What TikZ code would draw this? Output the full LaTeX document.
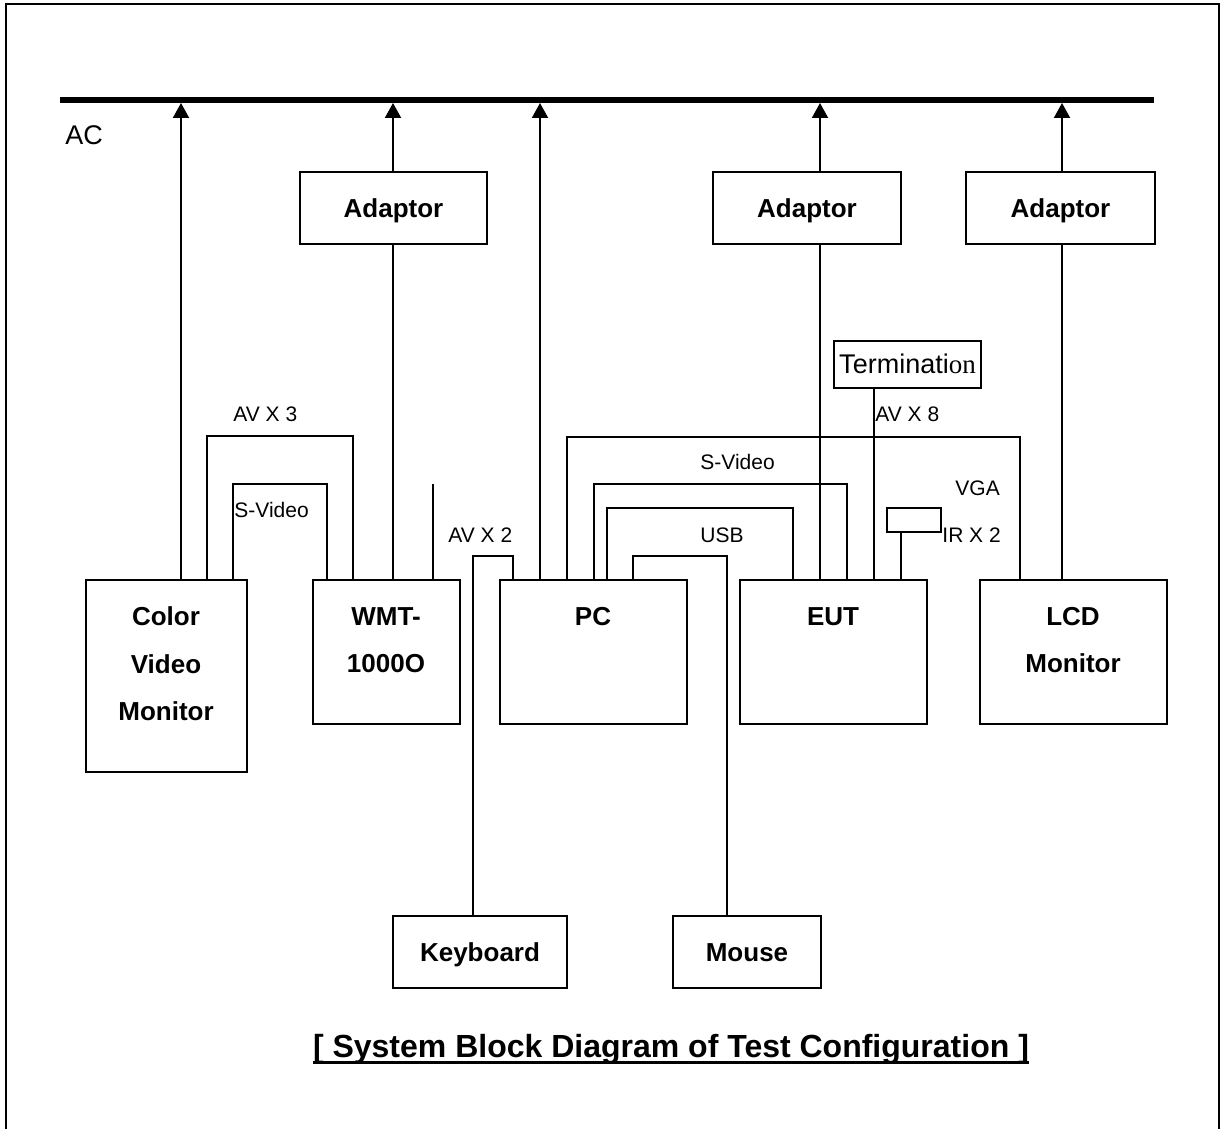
\documentclass[tikz,border=0pt]{standalone}
\usepackage{fontspec}
\setmainfont{Liberation Sans}
\newfontfamily\serifrm{Liberation Serif}
\usetikzlibrary{arrows.meta}

\tikzset{
  box/.style={draw,line width=1pt,inner sep=0pt,outer sep=0pt},
  boxtext/.style={font=\bfseries\fontsize{13}{23.75}\selectfont,align=center,inner sep=0pt},
  oneline/.style={text height=9.6pt,text depth=0.4pt},
  cable/.style={line width=1pt},
  tag/.style={font=\fontsize{10.5}{12}\selectfont,anchor=west,inner sep=0pt},
  power/.style={line width=1pt,shorten >=1.5pt,-{Triangle[width=8pt,length=7.5pt]}},
}

\begin{document}
\begin{tikzpicture}[x=0.5pt,y=-0.5pt]
\useasboundingbox (0,0) rectangle (1220,1129);
% frame
\draw[line width=1pt] (6,1129) -- (6,4) -- (1219,4) -- (1219,1129);

% AC bus
\coordinate (busw) at (60,100);
\coordinate (buse) at (1154,100);
\draw[line width=3pt] (busw) -- (buse);
\node[font=\fontsize{13.5}{16}\selectfont,anchor=west,inner sep=0pt] (ac) at (65,135) {AC};

% adaptors
\node[box,boxtext,oneline,minimum width=93.5pt,minimum height=36pt] (adpa) at (393.5,208) {Adaptor};
\node[box,boxtext,oneline,minimum width=94pt,minimum height=36pt] (adpb) at (807,208) {Adaptor};
\node[box,boxtext,oneline,minimum width=94.5pt,minimum height=36pt] (adpc) at (1060.5,208) {Adaptor};

% units
\node[box,minimum width=80.5pt,minimum height=96pt] (cvm) at (166.5,676) {};
\node[box,minimum width=73.5pt,minimum height=72pt] (wmt) at (386.5,652) {};
\node[box,minimum width=93.5pt,minimum height=72pt] (pc) at (593.5,652) {};
\node[box,minimum width=93.5pt,minimum height=72pt] (eut) at (833.5,652) {};
\node[box,minimum width=93.5pt,minimum height=72pt] (lcd) at (1073.5,652) {};
\node[boxtext] (cvmtext) at (166,664) {Color\\Video\\Monitor};
\node[boxtext] (wmttext) at (386,640) {WMT-\\1000O};
\node[boxtext] (pctext) at (593,617) {PC};
\node[boxtext] (euttext) at (833,617) {EUT};
\node[boxtext] (lcdtext) at (1073,640) {LCD\\Monitor};

\node[box,boxtext,oneline,minimum width=87pt,minimum height=36pt] (kbd) at (480,952) {Keyboard};
\node[box,boxtext,oneline,minimum width=74pt,minimum height=36pt] (mouse) at (747,952) {Mouse};

\node[box,font=\fontsize{13.5}{16}\selectfont,minimum width=73.5pt,minimum height=23.5pt] (term) at (907.5,364) {Terminati{\serifrm on}};
\node[box,minimum width=27pt,minimum height=12pt] (ir) at (914,520) {};

% power
\draw[power] (cvm.north -| 181,0) -- (busw -| 181,0);
\draw[power] (adpa.north -| 393,0) -- (busw -| 393,0);
\draw[cable] (adpa.south -| 393,0) -- (wmt.north -| 393,0);
\draw[power] (pc.north -| 540,0) -- (busw -| 540,0);
\draw[power] (adpb.north -| 820,0) -- (busw -| 820,0);
\draw[cable] (adpb.south -| 820,0) -- (eut.north -| 820,0);
\draw[power] (adpc.north -| 1062,0) -- (busw -| 1062,0);
\draw[cable] (adpc.south -| 1062,0) -- (lcd.north -| 1062,0);

% signal cables
\draw[cable] (cvm.north -| 207,0) |- (353,436) -- (wmt.north -| 353,0);
\draw[cable] (cvm.north -| 233,0) |- (327,484) -- (wmt.north -| 327,0);
\coordinate (stub) at (433,484);
\draw[cable] (wmt.north -| stub) -- (stub);
\draw[cable] (kbd.north -| 473,0) |- (513,556) -- (pc.north -| 513,0);
\draw[cable] (mouse.north -| 727,0) |- (633,556) -- (pc.north -| 633,0);
\draw[cable] (pc.north -| 567,0) |- (1020,437) -- (lcd.north -| 1020,0);
\draw[cable] (pc.north -| 594,0) |- (847,484) -- (eut.north -| 847,0);
\draw[cable] (pc.north -| 607,0) |- (793,508) -- (eut.north -| 793,0);
\draw[cable] (term.south -| 874,0) -- (eut.north -| 874,0);
\draw[cable] (ir.south -| 901,0) -- (eut.north -| 901,0);

% cable labels
\node[tag] (avthree) at (233,414) {AV X 3};
\node[tag] (svida) at (234,510) {S-Video};
\node[tag] (avtwo) at (448,535) {AV X 2};
\node[tag] (svidb) at (700,462) {S-Video};
\node[tag] (usb) at (700,535) {USB};
\node[tag] (aveight) at (875,414) {AV X 8};
\node[tag] (vga) at (955,488) {VGA};
\node[tag] (irtwo) at (942,535) {IR X 2};

% title
\node[font=\bfseries\fontsize{16}{19}\selectfont,inner sep=0pt,anchor=base] (title) at (671,1057) {[ System Block Diagram of Test Configuration ]};
\draw[line width=1.5pt] ([yshift=-2.5pt]title.base west) -- ([yshift=-2.5pt]title.base east);
\end{tikzpicture}
\end{document}
